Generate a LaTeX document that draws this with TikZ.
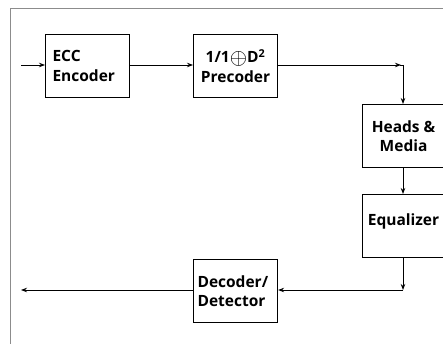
\documentclass[tikz,border=0pt]{standalone}
\usepackage{fontspec}
\setmainfont{Open Sans}
\usetikzlibrary{arrows.meta}
\begin{document}
\begin{tikzpicture}[x=1pt,y=-1pt,
  blk/.style={draw,line width=1.1pt,minimum width=84pt,minimum height=63pt,inner sep=2pt,
    font=\bfseries\fontsize{15.5}{19.5}\selectfont},
  conn/.style={line width=0.9pt,-{Stealth[length=6pt,width=4.5pt]}},
  wire/.style={line width=0.9pt},
  frame/.style={draw=black!45,line width=0.6pt}]
\useasboundingbox (0,0) rectangle (443,344);
\draw[frame] (10,344) -- (10,8) -- (443,8);
\node[blk,anchor=north west,align=left,text width=70pt] (ecc) at (45,34) {ECC\\Encoder};
\node[blk,anchor=north west,align=center] (pre) at (193,34) {1/1\raisebox{-1.6pt}{\scalebox{1.55}{$\oplus$}}D\textsuperscript{2}\\Precoder};
\node[blk,anchor=north west,align=center,minimum width=82pt] (hm) at (362,104) {Heads \&\\Media};
\node[blk,anchor=north west,minimum width=82pt,text depth=12pt] (eq) at (362,194) {Equalizer};
\node[blk,anchor=north west,align=left,text width=76pt] (dec) at (193,259) {Decoder/\\Detector};
\coordinate (in) at (21,65);
\coordinate (out) at (21,290);
\coordinate (c1) at (403,65);
\coordinate (c2) at (403,290);
\draw[conn] (in) -- (ecc.west |- in);
\draw[conn] (ecc.east |- in) -- (pre.west |- in);
\draw[conn] (pre.east |- c1) -- ([xshift=-2pt]c1);
\draw[wire] ([xshift=-3pt]c1) -- (c1);
\draw[conn] (c1) -- (hm.north -| c1);
\draw[conn] (hm.south -| c1) -- (eq.north -| c1);
\draw[conn] (eq.south -| c2) -- (c2);
\draw[conn] (c2) -- (dec.east |- c2);
\draw[conn] (dec.west |- out) -- (out);
\end{tikzpicture}
\end{document}
